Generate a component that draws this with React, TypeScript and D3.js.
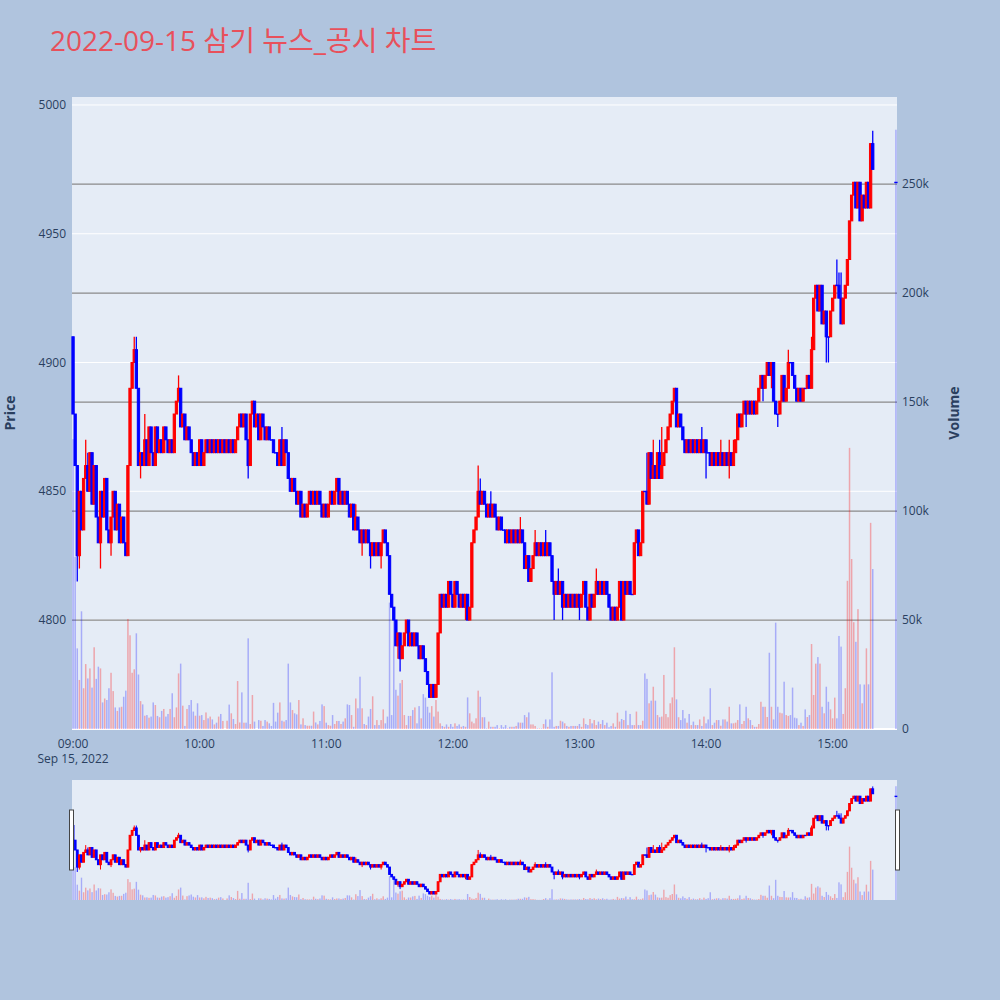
import React from "react";
import * as d3 from "d3";

// ---------- data ----------
const TITLE = "2022-09-15 삼기 뉴스_공시 차트";
const SESSION_DATE = [2022, 8, 15];
const SESSION_OPEN = 4910; // open of the first minute bar

// minute closes, 09:00 .. 15:19
const CLOSES: number[] = [
  4880, 4860, 4825, 4850, 4835, 4855, 4860, 4850, 4865, 4845,
  4860, 4840, 4830, 4850, 4840, 4855, 4835, 4830, 4840, 4850,
  4835, 4845, 4830, 4840, 4830, 4825, 4860, 4890, 4900, 4905,
  4890, 4860, 4865, 4860, 4870, 4860, 4875, 4865, 4860, 4875,
  4865, 4870, 4865, 4875, 4870, 4865, 4870, 4865, 4880, 4885,
  4890, 4875, 4880, 4870, 4875, 4870, 4865, 4860, 4865, 4860,
  4870, 4860, 4865, 4870, 4865, 4870, 4865, 4870, 4865, 4870,
  4865, 4870, 4865, 4870, 4865, 4870, 4865, 4870, 4875, 4880,
  4875, 4880, 4870, 4860, 4880, 4885, 4875, 4880, 4870, 4880,
  4875, 4870, 4875, 4870, 4870, 4865, 4865, 4860, 4870, 4860,
  4870, 4865, 4855, 4850, 4855, 4850, 4845, 4850, 4840, 4845,
  4840, 4845, 4850, 4845, 4850, 4845, 4850, 4845, 4840, 4845,
  4840, 4845, 4850, 4845, 4850, 4855, 4845, 4850, 4845, 4850,
  4845, 4840, 4845, 4835, 4840, 4835, 4830, 4835, 4830, 4835,
  4830, 4825, 4830, 4825, 4830, 4825, 4830, 4835, 4830, 4825,
  4810, 4805, 4800, 4790, 4795, 4785, 4790, 4795, 4800, 4790,
  4795, 4790, 4795, 4790, 4785, 4790, 4785, 4780, 4775, 4770,
  4775, 4770, 4775, 4795, 4810, 4805, 4810, 4805, 4815, 4810,
  4805, 4815, 4810, 4805, 4810, 4805, 4810, 4800, 4805, 4830,
  4835, 4840, 4850, 4845, 4850, 4845, 4840, 4845, 4840, 4845,
  4840, 4835, 4840, 4835, 4835, 4830, 4835, 4830, 4835, 4830,
  4835, 4830, 4835, 4830, 4820, 4825, 4815, 4820, 4825, 4830,
  4825, 4830, 4825, 4830, 4825, 4830, 4825, 4815, 4810, 4815,
  4810, 4815, 4805, 4810, 4805, 4810, 4805, 4810, 4805, 4810,
  4805, 4810, 4815, 4805, 4800, 4810, 4805, 4810, 4815, 4810,
  4815, 4810, 4815, 4810, 4805, 4800, 4805, 4800, 4805, 4815,
  4800, 4815, 4810, 4815, 4810, 4810, 4830, 4835, 4825, 4830,
  4850, 4850, 4845, 4865, 4855, 4860, 4855, 4865, 4855, 4860,
  4865, 4870, 4875, 4880, 4885, 4890, 4875, 4880, 4875, 4870,
  4865, 4870, 4865, 4870, 4865, 4870, 4865, 4870, 4865, 4870,
  4865, 4865, 4860, 4865, 4860, 4865, 4860, 4865, 4860, 4865,
  4860, 4865, 4860, 4865, 4870, 4880, 4875, 4880, 4885, 4880,
  4885, 4880, 4885, 4880, 4885, 4890, 4895, 4890, 4895, 4900,
  4895, 4900, 4885, 4880, 4880, 4885, 4895, 4885, 4890, 4900,
  4900, 4895, 4890, 4885, 4890, 4885, 4890, 4890, 4895, 4890,
  4905, 4925, 4930, 4920, 4930, 4915, 4920, 4910, 4910, 4920,
  4925, 4930, 4930, 4925, 4915, 4925, 4930, 4940, 4955, 4965,
  4970, 4960, 4970, 4955, 4965, 4960, 4970, 4960, 4985, 4975,
];

// minute volumes in thousands of shares, 09:00 .. 15:19
const VOLUMES_K: number[] = [
  133, 79, 37, 22.5, 54, 18.7, 29.8, 23.2, 27.8, 19,
  37.5, 23, 28.6, 27.8, 12.2, 14, 13.3, 18.7, 25.8, 17.4,
  9.9, 8.3, 9.9, 10.2, 14.8, 17.6, 50.5, 43, 25.8, 27.4,
  43.9, 25, 12.8, 11.3, 6.1, 6.4, 5.2, 5.7, 12.2, 11,
  6, 5.4, 8.3, 9.2, 5.7, 6.9, 9.2, 16.4, 5.4, 9.9,
  25.5, 30, 10.7, 1.4, 9.2, 11, 13.3, 8, 6.1, 11.8,
  6.1, 6.4, 4.1, 7.6, 4.9, 5.7, 4.4, 2.1, 2.9, 5.7,
  6.9, 3.7, 0, 3.8, 11.2, 7.2, 4.6, 2.3, 22, 3,
  16.8, 2.9, 2.9, 41.6, 2.3, 15.6, 3.4, 0, 4.1, 3.8,
  1.4, 4.1, 3.4, 2.6, 1.4, 12, 3.4, 7.5, 12.2, 3.8,
  3.4, 4.1, 30, 12.2, 8.7, 7.2, 6.7, 13.3, 2.1, 4.9,
  1.8, 1.5, 1.5, 1.5, 8, 3, 2.1, 3.7, 11.3, 10.5,
  2.9, 1.8, 1.5, 6.4, 2.3, 3.7, 3.7, 2.3, 3.4, 4.9,
  11.3, 11, 6.4, 1, 14, 9.5, 24, 9.5, 2.3, 1.8,
  5.7, 9.2, 15, 1.8, 4.1, 1.8, 4.1, 9, 2.6, 5.7,
  58, 6.4, 50, 18, 15.3, 21, 22.5, 6.4, 1.8, 6,
  6, 8.7, 9.9, 2.6, 10.5, 4.9, 16, 14.4, 10.2, 7.5,
  10.5, 5.7, 13.3, 8, 2.6, 1.4, 1, 2.1, 1, 2.3,
  1, 2.6, 1.4, 2.1, 1, 1.4, 1, 14.5, 7.2, 3.4,
  2.6, 4.9, 17.6, 14.8, 5.4, 5.4, 0.3, 3.4, 1, 1,
  1, 1.8, 0.3, 1.8, 0.8, 1.8, 0.3, 1, 1, 1,
  1.4, 3, 2.9, 2.9, 6.4, 5.4, 7.6, 2.1, 2.1, 1.4,
  0.3, 0.3, 0.3, 2.3, 4.4, 1, 4.4, 26, 1, 1.4,
  1.4, 3.8, 3.4, 2.6, 1.4, 1, 1.4, 1.4, 1.4, 1.4,
  2.3, 1, 4.9, 2.3, 1.8, 4.6, 2.6, 4.1, 1.8, 3.4,
  2.3, 4.1, 1.8, 2.9, 0.8, 1.4, 2.6, 1, 7.5, 3.4,
  4.6, 4.1, 8.4, 1.8, 6.9, 1.8, 1.8, 8, 1.8, 1.8,
  3.8, 25.5, 23, 11.8, 13, 19.4, 13, 6.4, 5.4, 5.7,
  24.8, 6.9, 5.4, 11.8, 14.5, 37.5, 13.6, 5.4, 4.1, 8.7,
  4.9, 2.9, 6.9, 1.8, 3.4, 1.8, 1.8, 4.4, 1.4, 5.7,
  2.6, 4.4, 18.7, 1.8, 2.9, 4.1, 4.1, 1.5, 4.4, 4.4,
  3.4, 10.2, 2.6, 2.6, 2.9, 4.1, 11.3, 2.3, 3.7, 10.2,
  4.9, 4.1, 1.8, 1, 1, 2.3, 12.5, 10.2, 10.2, 5.5,
  35, 10.2, 4.4, 48.8, 10.2, 7.5, 7.2, 21.7, 6.4, 6,
  6.4, 19, 5.2, 4.9, 1.8, 2.9, 1.4, 9, 5.5, 6.4,
  39, 15.6, 30, 33, 30, 10.2, 7.2, 19.4, 12.5, 9,
  4.9, 14.4, 4.9, 42.7, 37.8, 6.9, 18.7, 68, 129, 78,
  49, 40, 55, 20.5, 11.8, 20.4, 37, 20.5, 94.6, 73.4,
];

// [minute index, price] wick extremes beyond the body
const WICK_HIGHS: [number, number][] = [
  [0, 4910], [6, 4870], [7, 4865], [8, 4865], [29, 4910], [30, 4910], [34, 4880],
  [50, 4895], [99, 4875], [134, 4845], [192, 4860], [193, 4855], [198, 4850],
  [212, 4840], [219, 4835], [224, 4835], [230, 4820], [248, 4820], [267, 4835],
  [272, 4865], [275, 4870], [278, 4870], [279, 4875], [298, 4875], [307, 4870],
  [311, 4870], [313, 4870], [339, 4905], [350, 4910], [362, 4940], [363, 4935],
  [364, 4935], [379, 4990],
];
const WICK_LOWS: [number, number][] = [
  [2, 4815], [3, 4820], [13, 4820], [18, 4825], [32, 4855], [83, 4855],
  [137, 4825], [141, 4820], [146, 4820], [154, 4785], [155, 4780], [186, 4800],
  [228, 4800], [232, 4800], [240, 4800], [244, 4800], [300, 4855], [311, 4855],
  [319, 4875], [327, 4885], [331, 4890], [334, 4875], [357, 4900], [358, 4900],
];

// closing auction bar (15:30)
const AUCTION_MINUTE = 390;
const AUCTION_PRICE = 4970;
const AUCTION_VOLUME_K = 275;

const PRICE_TICKS = [4800, 4850, 4900, 4950, 5000];
const VOLUME_TICKS = [0, 50000, 100000, 150000, 200000, 250000];
const VOLUME_TICK_LABELS = ["0", "50k", "100k", "150k", "200k", "250k"];
const PRICE_DOMAIN = [4757.7, 5003.1];
const VOLUME_DOMAIN = [0, 290000];

// ---------- layout / style ----------
const W = 1000;
const H = 1000;
const PLOT = { left: 72, right: 897, top: 97, bottom: 729 };
const SLIDER = { top: 780, bottom: 900 };
const PAGE_BG = "#B0C4DE";
const PLOT_BG = "#E5ECF6";
const INC = "#ff0000";
const DEC = "#0000ff";
const FONT = "'Open Sans', verdana, arial, sans-serif";
const TEXT = "#2a3f5f";

type Bar = { t: Date; o: number; h: number; l: number; c: number; v: number };

const minuteDate = (m: number) =>
  new Date(SESSION_DATE[0], SESSION_DATE[1], SESSION_DATE[2], 9, 0, 0, 0).getTime() + m * 60000;

function buildBars(): Bar[] {
  const hi = new Map(WICK_HIGHS.map(([m, p]) => [m, p]));
  const lo = new Map(WICK_LOWS.map(([m, p]) => [m, p]));
  const bars: Bar[] = CLOSES.map((c, i) => {
    const o = i === 0 ? SESSION_OPEN : CLOSES[i - 1];
    const h = Math.max(o, c, hi.get(i) ?? -Infinity);
    const l = Math.min(o, c, lo.get(i) ?? Infinity);
    return { t: new Date(minuteDate(i)), o, h, l, c, v: VOLUMES_K[i] * 1000 };
  });
  bars.push({
    t: new Date(minuteDate(AUCTION_MINUTE)),
    o: AUCTION_PRICE,
    h: AUCTION_PRICE,
    l: AUCTION_PRICE,
    c: AUCTION_PRICE,
    v: AUCTION_VOLUME_K * 1000,
  });
  return bars;
}

function Candles({ bars, x, y, bodyW, wickW }: any) {
  return (
    <g>
      {bars.map((b: Bar, i: number) => {
        const col = b.c > b.o ? INC : DEC;
        const cx = x(b.t);
        const top = y(Math.max(b.o, b.c));
        const bot = y(Math.min(b.o, b.c));
        return (
          <g key={i}>
            <line x1={cx} x2={cx} y1={y(b.h)} y2={y(b.l)} stroke={col} strokeWidth={wickW} />
            <rect
              x={cx - bodyW / 2}
              y={top}
              width={bodyW}
              height={Math.max(bot - top, 0.4)}
              fill={col}
              stroke={col}
              strokeWidth={1}
            />
          </g>
        );
      })}
    </g>
  );
}

function Volumes({ bars, x, y, w }: any) {
  return (
    <g>
      {bars.map((b: Bar, i: number) => {
        if (b.v <= 0) return null;
        const col = b.c > b.o ? "rgba(255,0,0,0.3)" : "rgba(0,0,255,0.27)";
        return (
          <rect key={i} x={x(b.t) - w / 2} y={y(b.v)} width={w} height={y(0) - y(b.v)} fill={col} />
        );
      })}
    </g>
  );
}

export default function App() {
  const bars = buildBars();
  const x = d3
    .scaleTime()
    .domain([new Date(minuteDate(-0.5)), new Date(minuteDate(390.5))])
    .range([PLOT.left, PLOT.right]);
  const yP = d3.scaleLinear().domain(PRICE_DOMAIN).range([PLOT.bottom, PLOT.top]);
  const yV = d3.scaleLinear().domain(VOLUME_DOMAIN).range([PLOT.bottom, PLOT.top]);
  const yPs = d3.scaleLinear().domain(PRICE_DOMAIN).range([SLIDER.bottom, SLIDER.top]);
  const yVs = d3.scaleLinear().domain(VOLUME_DOMAIN).range([SLIDER.bottom, SLIDER.top]);
  const hourTicks = d3.timeHour.range(new Date(minuteDate(0)), new Date(minuteDate(361)));
  const fmt = d3.timeFormat("%H:%M");
  const midY = (PLOT.top + PLOT.bottom) / 2;
  const sliderMid = (SLIDER.top + SLIDER.bottom) / 2;

  return (
    <svg
      width={W}
      height={H}
      style={{ position: "absolute", left: 0, top: 0 }}
      fontFamily={FONT}
    >
      <rect x={0} y={0} width={W} height={H} fill={PAGE_BG} />
      <text
        x={50}
        y={51}
        fontSize={28}
        fill="#E8505B"
        fontFamily={"'Open Sans', 'Noto Sans CJK KR', sans-serif"}
      >
        {TITLE}
      </text>

      {/* main plot */}
      <rect
        x={PLOT.left}
        y={PLOT.top}
        width={PLOT.right - PLOT.left}
        height={PLOT.bottom - PLOT.top}
        fill={PLOT_BG}
      />
      {PRICE_TICKS.map((p) => (
        <line key={"pg" + p} x1={PLOT.left} x2={PLOT.right} y1={yP(p)} y2={yP(p)} stroke="#ffffff" strokeWidth={1} />
      ))}
      {VOLUME_TICKS.filter((v) => v > 0).map((v) => (
        <line key={"vg" + v} x1={PLOT.left} x2={PLOT.right} y1={yV(v)} y2={yV(v)} stroke="#8a8a8a" strokeWidth={1.2} />
      ))}
      <line x1={PLOT.left} x2={PLOT.right} y1={yV(0)} y2={yV(0)} stroke="#ffffff" strokeWidth={2} />

      <Candles bars={bars} x={x} y={yP} bodyW={2.3} wickW={1.3} />
      <Volumes bars={bars} x={x} y={yV} w={1.5} />

      {/* left axis */}
      {PRICE_TICKS.map((p) => (
        <text key={"pl" + p} x={66} y={yP(p)} dy="0.35em" textAnchor="end" fontSize={12} fill={TEXT}>
          {p}
        </text>
      ))}
      <text
        transform={`translate(15, ${midY}) rotate(-90)`}
        textAnchor="middle"
        fontSize={14}
        fontWeight="bold"
        fill={TEXT}
      >
        Price
      </text>

      {/* right axis */}
      {VOLUME_TICKS.map((v, i) => (
        <text key={"vl" + v} x={902} y={yV(v)} dy="0.35em" textAnchor="start" fontSize={12} fill={TEXT}>
          {VOLUME_TICK_LABELS[i]}
        </text>
      ))}
      <text
        transform={`translate(959, ${midY}) rotate(-90)`}
        textAnchor="middle"
        fontSize={14}
        fontWeight="bold"
        fill={TEXT}
      >
        Volume
      </text>

      {/* x axis */}
      {hourTicks.map((t, i) => (
        <text key={"xt" + i} x={x(t)} y={748} textAnchor="middle" fontSize={12} fill={TEXT}>
          {fmt(t)}
        </text>
      ))}
      <text x={x(hourTicks[0])} y={763} textAnchor="middle" fontSize={12} fill={TEXT}>
        {d3.timeFormat("%b %-d, %Y")(hourTicks[0])}
      </text>

      {/* range slider */}
      <rect
        x={PLOT.left}
        y={SLIDER.top}
        width={PLOT.right - PLOT.left}
        height={SLIDER.bottom - SLIDER.top}
        fill={PLOT_BG}
      />
      <Candles bars={bars} x={x} y={yPs} bodyW={1.8} wickW={1} />
      <Volumes bars={bars} x={x} y={yVs} w={1.4} />
      <rect x={PLOT.left - 2.5} y={sliderMid - 30} width={4} height={60} fill="#ffffff" stroke="#444" strokeWidth={1} />
      <rect x={PLOT.right - 1.5} y={sliderMid - 30} width={4} height={60} fill="#ffffff" stroke="#444" strokeWidth={1} />
    </svg>
  );
}
